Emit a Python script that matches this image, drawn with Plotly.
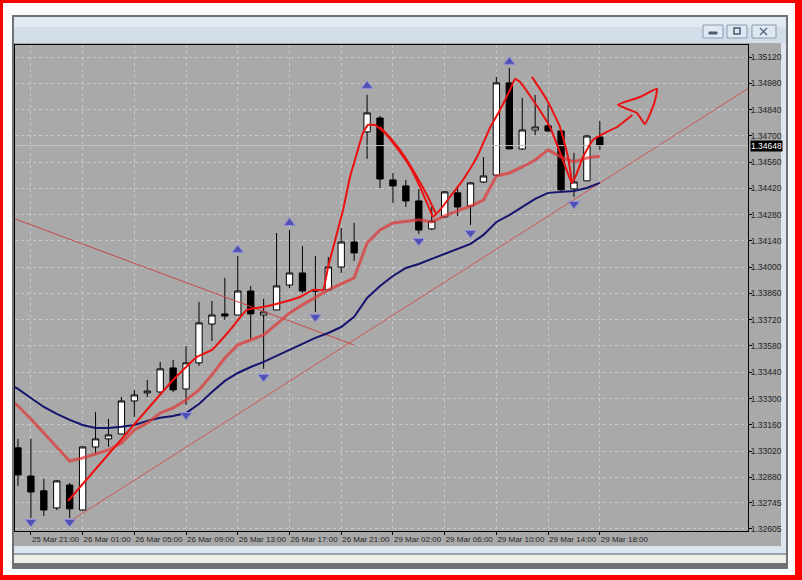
import plotly.graph_objects as go

# ---------------- data ----------------
bar_times = (["25 Mar %02d:00" % h for h in range(20, 24)] +
             ["26 Mar %02d:00" % h for h in range(0, 23)] +
             ["29 Mar %02d:00" % h for h in range(0, 19)])
bars = list(range(len(bar_times)))

opens = [1.33037, 1.32887, 1.32808, 1.32717, 1.32839, 1.32706, 1.33042, 1.33085, 1.33111, 1.33287,
         1.33330, 1.33335, 1.33463, 1.33351, 1.33490, 1.33697, 1.33751, 1.33745, 1.33873, 1.33745,
         1.33772, 1.33905, 1.33969, 1.33879, 1.33879, 1.34001, 1.34134, 1.34721, 1.34795, 1.34465,
         1.34433, 1.34353, 1.34204, 1.34268, 1.34396, 1.34326, 1.34454, 1.34491, 1.34982, 1.34630,
         1.34731, 1.34753, 1.34726, 1.34417, 1.34460, 1.34694]
highs = [1.33085, 1.33085, 1.32871, 1.32866, 1.32850, 1.33047, 1.33229, 1.33191, 1.33308, 1.33346,
         1.33399, 1.33495, 1.33506, 1.33580, 1.33815, 1.33820, 1.33943, 1.34060, 1.33900, 1.33831,
         1.34182, 1.34198, 1.34113, 1.34060, 1.34054, 1.34209, 1.34236, 1.34918, 1.34806, 1.34502,
         1.34465, 1.34417, 1.34321, 1.34406, 1.34433, 1.34454, 1.34587, 1.35014, 1.35062, 1.34902,
         1.34918, 1.34865, 1.34731, 1.34609, 1.34705, 1.34779]
lows = [1.32834, 1.32664, 1.32674, 1.32706, 1.32664, 1.32701, 1.33005, 1.33042, 1.33111, 1.33202,
        1.33308, 1.33324, 1.33335, 1.33266, 1.33474, 1.33607, 1.33719, 1.33745, 1.33618, 1.33458,
        1.33772, 1.33889, 1.33863, 1.33761, 1.33879, 1.33969, 1.34033, 1.34577, 1.34422, 1.34342,
        1.34321, 1.34177, 1.34198, 1.34262, 1.34273, 1.34225, 1.34449, 1.34486, 1.34630, 1.34625,
        1.34705, 1.34721, 1.34406, 1.34374, 1.34460, 1.34625]
closes = [1.32893, 1.32802, 1.32706, 1.32861, 1.32712, 1.33042, 1.33085, 1.33106, 1.33287, 1.33319,
          1.33340, 1.33458, 1.33346, 1.33490, 1.33703, 1.33745, 1.33740, 1.33873, 1.33751, 1.33761,
          1.33900, 1.33969, 1.33873, 1.33873, 1.34001, 1.34134, 1.34076, 1.34822, 1.34470, 1.34433,
          1.34353, 1.34198, 1.34246, 1.34401, 1.34321, 1.34449, 1.34486, 1.34982, 1.34630, 1.34731,
          1.34747, 1.34726, 1.34412, 1.34454, 1.34699, 1.34648]

ma_bars = list(range(-1, len(bar_times)))
ma_slow = [1.33394, 1.33351, 1.33303, 1.33255, 1.33218, 1.33186, 1.33159, 1.33143, 1.33143, 1.33149,
           1.33159, 1.33181, 1.33197, 1.33207, 1.33223, 1.33271, 1.33335, 1.33394, 1.33436, 1.33468,
           1.33495, 1.33527, 1.33559, 1.33591, 1.33623, 1.33649, 1.33681, 1.33735, 1.33836, 1.33900,
           1.33953, 1.33996, 1.34017, 1.34044, 1.34070, 1.34097, 1.34124, 1.34172, 1.34241, 1.34278,
           1.34321, 1.34364, 1.34396, 1.34401, 1.34406, 1.34422, 1.34449]
ma_mid = [1.33314, 1.33260, 1.33191, 1.33117, 1.33042, 1.32967, 1.32983, 1.33005, 1.33026, 1.33063,
          1.33133, 1.33170, 1.33223, 1.33250, 1.33292, 1.33346, 1.33426, 1.33516, 1.33586, 1.33612,
          1.33639, 1.33697, 1.33756, 1.33799, 1.33841, 1.33879, 1.33911, 1.33943, 1.34129, 1.34198,
          1.34236, 1.34246, 1.34252, 1.34241, 1.34273, 1.34300, 1.34326, 1.34358, 1.34486, 1.34502,
          1.34534, 1.34571, 1.34625, 1.34587, 1.34561, 1.34582, 1.34593]

# hand-drawn forecast strokes (bar position, price)
draw_main_x = [3.87, 11.99, 12.53, 13.84, 15.00, 16.40, 17.71, 18.95, 20.26, 21.81, 22.82, 23.59,
               23.98, 25.14, 25.68, 26.22, 26.68, 27.07, 27.61, 28.38, 29.31, 30.32, 31.09, 31.86,
               32.10, 32.64, 33.41, 34.42, 35.50, 36.50, 37.28, 38.05, 38.44, 38.82, 39.83, 41.14,
               42.15, 42.85, 43.23, 43.70, 44.47, 45.55, 46.33, 47.51]
draw_main_y = [1.32754, 1.33399, 1.33436, 1.33522, 1.33559, 1.33665, 1.33772, 1.33788, 1.33809,
               1.33841, 1.33879, 1.33879, 1.34001, 1.34305, 1.34481, 1.34609, 1.34715, 1.34758,
               1.34758, 1.34715, 1.34635, 1.34534, 1.34428, 1.34305, 1.34268, 1.34305, 1.34374,
               1.34465, 1.34587, 1.34742, 1.34838, 1.34944, 1.35003, 1.34987, 1.34891, 1.34747,
               1.34571, 1.34449, 1.34502, 1.34587, 1.34678, 1.34721, 1.34747, 1.34811]
draw_b_x = [28.0, 28.93, 29.93, 30.86, 31.71, 32.33]
draw_b_y = [1.34747, 1.34678, 1.34587, 1.34481, 1.34374, 1.34284]
draw_c_x = [39.75, 40.91, 41.92, 42.54, 42.85]
draw_c_y = [1.35014, 1.34891, 1.34747, 1.34587, 1.34449]
arrow_x = [46.40, 48.11, 49.42, 49.19, 48.49, 47.87, 46.40]
arrow_y = [1.34865, 1.34907, 1.34950, 1.34870, 1.34763, 1.34822, 1.34865]

# trend lines (two anchor points each)
trend_up_x = [3.94, 57.0]
trend_up_y = [1.32642, 1.34976]
trend_down_x = [-1.0, 26.0]
trend_down_y = [1.34277, 1.33585]

# fractals
frac_up_x = [17, 21, 27, 38]
frac_up_y = [1.34092, 1.34236, 1.34966, 1.35094]
frac_dn_x = [1, 4, 13, 19, 23, 31, 35, 43]
frac_dn_y = [1.32642, 1.32642, 1.33212, 1.33415, 1.33735, 1.34140, 1.34182, 1.34337]

bid_price = 1.34648
price_ticks = [1.35120, 1.34980, 1.34840, 1.34700, 1.34560, 1.34420, 1.34280, 1.34140, 1.34000,
               1.33860, 1.33720, 1.33580, 1.33440, 1.33300, 1.33160, 1.33020, 1.32880, 1.32745,
               1.32605]
price_labels = ["%.5f" % p for p in price_ticks]
time_tick_bars = [1, 5, 9, 13, 17, 21, 25, 29, 33, 37, 41, 45]
time_tick_labels = [bar_times[i] for i in time_tick_bars]

# ---------------- layout geometry ----------------
W, H = 802, 580
ML, MR, MT, MB = 15, 54, 45, 49
PW, PH = W - ML - MR, H - MT - MB
CHART_BG = "#a9a9a9"
XFONT = dict(family="Liberation Sans", size=8, color="#262626")
YFONT = dict(family="Liberation Sans", size=8.5, color="#262626")


def px2paper_x(px):
    return (px - ML) / PW


def px2paper_y(py):
    return (H - MB - py) / PH


def rect(x0, y0, x1, y1, fill, line=None, lw=0, layer="below"):
    return dict(type="rect", xref="paper", yref="paper",
                x0=px2paper_x(x0), x1=px2paper_x(x1), y0=px2paper_y(y1), y1=px2paper_y(y0),
                fillcolor=fill, line=dict(color=line or fill, width=lw), layer=layer)


def seg(x0, y0, x1, y1, color, lw=1):
    return dict(type="line", xref="paper", yref="paper",
                x0=px2paper_x(x0), x1=px2paper_x(x1), y0=px2paper_y(y0), y1=px2paper_y(y1),
                line=dict(color=color, width=lw), layer="above")


fig = go.Figure()

# trendlines
fig.add_trace(go.Scatter(x=trend_down_x, y=trend_down_y, mode="lines",
                         line=dict(color="#cc4848", width=1), hoverinfo="skip"))
fig.add_trace(go.Scatter(x=trend_up_x, y=trend_up_y, mode="lines",
                         line=dict(color="#cc5858", width=1), hoverinfo="skip"))
# bid line
fig.add_trace(go.Scatter(x=[-1, 60], y=[bid_price, bid_price], mode="lines",
                         line=dict(color="#c4c4c4", width=1), hoverinfo="skip"))
# moving averages
fig.add_trace(go.Scatter(x=ma_bars, y=ma_slow, mode="lines",
                         line=dict(color="#14146e", width=2), hoverinfo="skip"))
fig.add_trace(go.Scatter(x=ma_bars, y=ma_mid, mode="lines",
                         line=dict(color="rgba(225,55,55,0.72)", width=3), hoverinfo="skip"))

# candles
fig.add_trace(go.Candlestick(
    x=bars, open=opens, high=highs, low=lows, close=closes,
    increasing=dict(fillcolor="white", line=dict(color="black", width=1)),
    decreasing=dict(fillcolor="black", line=dict(color="black", width=1)),
    whiskerwidth=0, hoverinfo="skip"))

# hand-drawn strokes
for xs, ys in [(draw_main_x, draw_main_y), (draw_b_x, draw_b_y), (draw_c_x, draw_c_y),
               (arrow_x, arrow_y)]:
    fig.add_trace(go.Scatter(x=xs, y=ys, mode="lines",
                             line=dict(color="#ec1010", width=2, shape="spline", smoothing=0.4),
                             hoverinfo="skip"))

# fractals
for fx, fy, sym in [(frac_up_x, frac_up_y, "triangle-up"), (frac_dn_x, frac_dn_y, "triangle-down")]:
    fig.add_trace(go.Scatter(x=fx, y=fy, mode="markers",
                             marker=dict(symbol=sym, size=10, color="#5050b4",
                                         line=dict(color="#9090dc", width=1)),
                             hoverinfo="skip"))

shapes = [
    rect(0, 0, W, H, "#ff0000"),
    rect(3, 3, 795, 575, "#fbfcfe"),
    rect(12, 15, 788, 569, "#6f7173"),
    rect(14, 17, 786, 43, "#d3dde9"),
    rect(14, 17, 786, 27, "#e2e9f2"),
    rect(14, 43, 781, 546, CHART_BG),
    rect(781, 43, 786, 563, "#dfe6ee"),
    rect(14, 546, 786, 553, "#dbe5f0"),
    rect(14, 553, 786, 555, "#9aa3ad"),
    rect(14, 555, 786, 563, "#efeee6"),
    # title bar buttons
    rect(703, 25, 723, 38, "#dfe7f1", "#8a9bb0", 1, layer="above"),
    rect(727, 25, 747, 38, "#dfe7f1", "#8a9bb0", 1, layer="above"),
    rect(752, 25, 776, 38, "#dfe7f1", "#8a9bb0", 1, layer="above"),
    rect(709, 32, 717, 34, "#4a5a70", "#4a5a70", 1, layer="above"),
    rect(734, 28, 740, 34, "#dfe7f1", "#4a5a70", 1.5, layer="above"),
    seg(760, 28, 767, 35, "#5a6a80", 1.5),
    seg(760, 35, 767, 28, "#5a6a80", 1.5),
]

annotations = [
    dict(xref="paper", yref="y", x=px2paper_x(750), y=bid_price, xanchor="left", yanchor="middle",
         text="1.34648", showarrow=False, bgcolor="black", borderpad=0,
         font=dict(family="Liberation Sans", size=8.5, color="white")),
]

fig.update_layout(
    width=W, height=H,
    margin=dict(l=ML, r=MR, t=MT, b=MB, pad=0, autoexpand=False),
    paper_bgcolor="#fbfcfe", plot_bgcolor=CHART_BG,
    showlegend=False, shapes=shapes, annotations=annotations,
    font=XFONT,
    xaxis=dict(range=[-0.23, 56.46], rangeslider=dict(visible=False), automargin=False,
               tickmode="array", tickvals=time_tick_bars, ticktext=time_tick_labels, tickangle=0,
               ticks="outside", ticklen=3, tickcolor="black", ticklabelposition="outside right",
               showgrid=True, gridcolor="#c8c8c8", griddash="dot", gridwidth=1,
               showline=True, linecolor="black", linewidth=1, mirror=True, zeroline=False,
               tickfont=XFONT),
    yaxis=dict(range=[1.32594, 1.35184], side="right", automargin=False,
               tickmode="array", tickvals=price_ticks, ticktext=price_labels,
               ticks="outside", ticklen=3, tickcolor="black", ticklabelstandoff=-3,
               showgrid=True, gridcolor="#c8c8c8", griddash="dot", gridwidth=1,
               showline=True, linecolor="black", linewidth=1, mirror=True, zeroline=False,
               tickfont=YFONT),
)

fig.write_html("out.html", config={"displayModeBar": False},
               post_script="document.body.style.margin='0';document.body.style.padding='0';")
